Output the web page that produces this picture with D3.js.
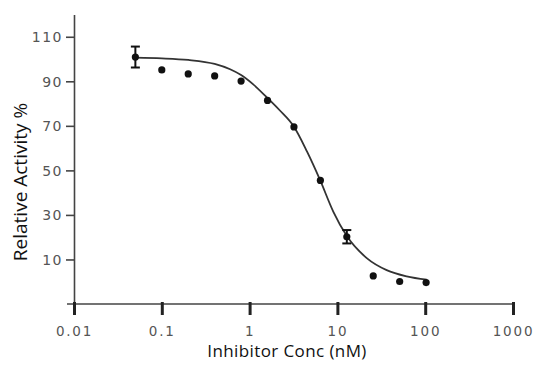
<!DOCTYPE html>
<html>
<head>
<meta charset="utf-8">
<script src="https://cdn.jsdelivr.net/npm/d3@7"></script>
<style>
  body { margin: 0; background: #fff; }
  svg { display: block; }
</style>
</head>
<body>
<div id="chart"></div>
<script>
// dose response data, 2-fold dilutions
var concentrations = [0.05, 0.1, 0.2, 0.4, 0.8, 1.6, 3.2, 6.4, 12.8, 25.6, 51.2, 102.4];
var activity = [100.9, 95.1, 93.3, 92.4, 90.1, 81.4, 69.5, 45.5, 20.2, 2.6, 0.1, -0.4];
var errors = [4.7, 0, 0, 0, 0, 0, 0, 0, 3.0, 0, 0, 0];

// fitted curve
var fitConc = [0.05, 0.1, 0.2, 0.4, 0.6, 0.8, 1.1, 1.57, 2.2, 3.15, 4.5, 6.34, 8.97, 12.8, 21.6, 36.4, 61.5, 104];
var fitValue = [100.6, 100.3, 99.6, 97.8, 95.4, 92.8, 88.6, 82.8, 77.0, 70.0, 58.5, 45.7, 31.5, 20.5, 10.6, 5.2, 2.4, 0.9];

var xTicks = [0.01, 0.1, 1, 10, 100, 1000];
var xTickLabels = ["0.01", "0.1", "1", "10", "100", "1000"];
var yTicks = [10, 30, 50, 70, 90, 110];

var width = 541, height = 366;

var svg = d3.select("#chart").append("svg")
  .attr("width", width)
  .attr("height", height);

var x = d3.scaleLog()
  .domain([0.01, 1000])
  .range([74, 513]);

var y = d3.scaleLinear()
  .domain([-10, 120])
  .range([304, 14.5]);

var axisColor = "#444";
var tickFont = "'DejaVu Sans', Verdana, sans-serif";

// y axis
var yAxis = svg.append("g")
  .attr("transform", "translate(" + x(0.01) + ",0)")
  .call(d3.axisLeft(y).tickValues(yTicks).tickSize(8).tickPadding(3).tickSizeOuter(0));

yAxis.select(".domain").attr("stroke", axisColor).attr("stroke-width", 1.6);
yAxis.selectAll(".tick line").attr("stroke", axisColor).attr("stroke-width", 1.6);
yAxis.selectAll(".tick text")
  .attr("fill", "#555")
  .attr("dy", "0.36em")
  .style("font-family", tickFont)
  .style("font-size", "14px")
  .style("letter-spacing", "1.5px");

// x axis
var xAxis = svg.append("g")
  .attr("transform", "translate(0," + y(-10) + ")")
  .call(d3.axisBottom(x).tickValues(xTicks)
    .tickFormat(function(d, i) { return xTickLabels[i]; })
    .tickSize(11).tickPadding(11).tickSizeOuter(0));

xAxis.select(".domain")
  .attr("d", "M67,0H" + x(1000))
  .attr("stroke", axisColor).attr("stroke-width", 1.6);
xAxis.selectAll(".tick line")
  .attr("y1", -2)
  .attr("stroke", "#222").attr("stroke-width", 3);
xAxis.selectAll(".tick text")
  .attr("fill", "#555")
  .style("font-family", tickFont)
  .style("font-size", "13.5px")
  .style("letter-spacing", "1.8px");

// axis titles
svg.append("text")
  .attr("transform", "translate(27," + 182 + ") rotate(-90)")
  .attr("text-anchor", "middle")
  .style("font-family", "'Open Sans', sans-serif")
  .style("font-size", "19px")
  .attr("fill", "#111")
  .text("Relative Activity %");

svg.append("text")
  .attr("x", 287)
  .attr("y", 357)
  .attr("text-anchor", "middle")
  .style("font-family", "'Open Sans', sans-serif")
  .style("font-size", "17px")
  .style("letter-spacing", "0.4px")
  .attr("fill", "#111")
  .text("Inhibitor Conc (nM)");

// fitted curve
var fit = fitConc.map(function(c, i) { return {conc: c, value: fitValue[i]}; });

svg.append("path")
  .datum(fit)
  .attr("fill", "none")
  .attr("stroke", "#333")
  .attr("stroke-width", 1.8)
  .attr("d", d3.line()
    .curve(d3.curveMonotoneX)
    .x(function(d) { return x(d.conc); })
    .y(function(d) { return y(d.value); }));

// points and error bars
var points = concentrations.map(function(c, i) {
  return {conc: c, value: activity[i], err: errors[i]};
});

var bars = svg.append("g").selectAll("g")
  .data(points.filter(function(d) { return d.err > 0; }))
  .enter().append("g")
  .attr("stroke", "#111")
  .attr("stroke-width", 2);

bars.append("line")
  .attr("x1", function(d) { return x(d.conc); })
  .attr("x2", function(d) { return x(d.conc); })
  .attr("y1", function(d) { return y(d.value + d.err); })
  .attr("y2", function(d) { return y(d.value - d.err); });

bars.append("line")
  .attr("x1", function(d) { return x(d.conc) - 4.5; })
  .attr("x2", function(d) { return x(d.conc) + 4.5; })
  .attr("y1", function(d) { return y(d.value + d.err); })
  .attr("y2", function(d) { return y(d.value + d.err); });

bars.append("line")
  .attr("x1", function(d) { return x(d.conc) - 4.5; })
  .attr("x2", function(d) { return x(d.conc) + 4.5; })
  .attr("y1", function(d) { return y(d.value - d.err); })
  .attr("y2", function(d) { return y(d.value - d.err); });

svg.append("g").selectAll("circle")
  .data(points)
  .enter().append("circle")
  .attr("cx", function(d) { return x(d.conc); })
  .attr("cy", function(d) { return y(d.value); })
  .attr("r", 3.6)
  .attr("fill", "#111");
</script>
</body>
</html>
